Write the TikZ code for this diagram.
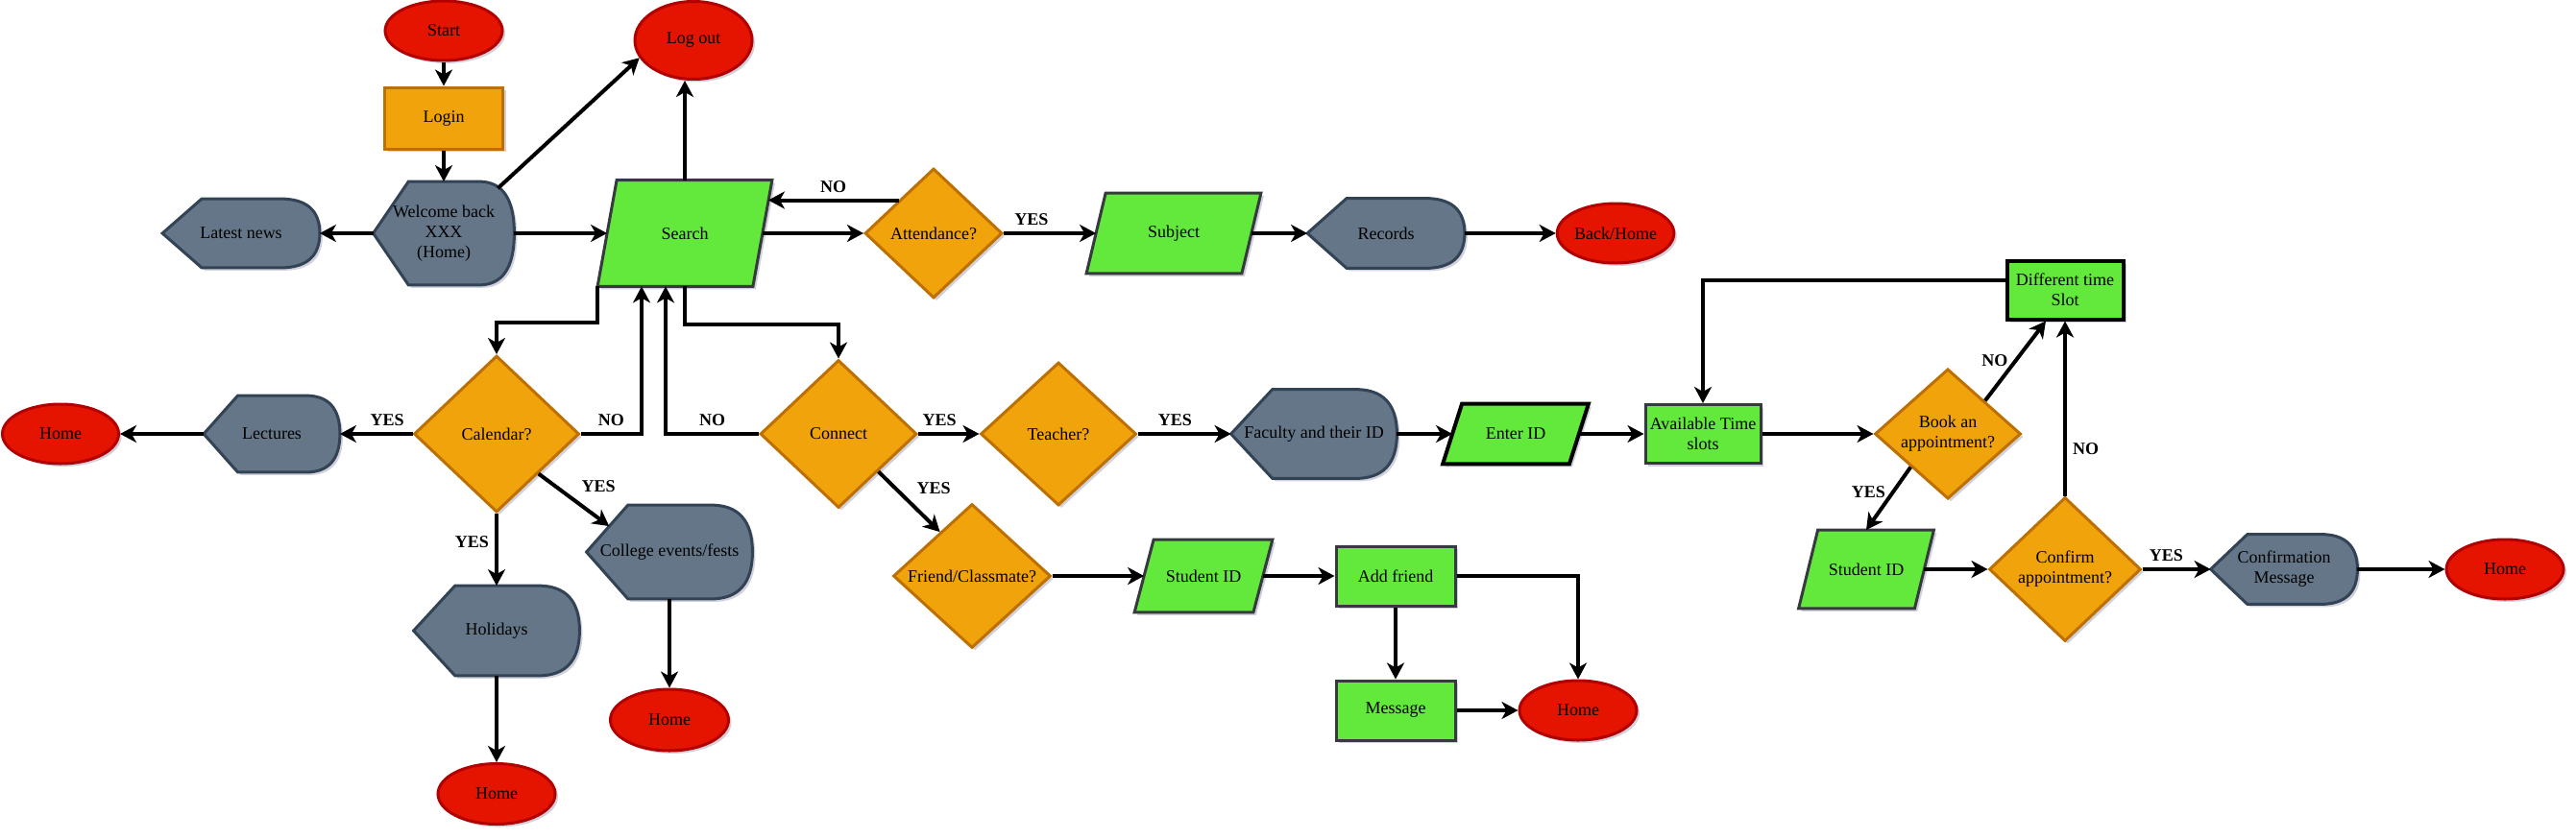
\documentclass[tikz,border=0pt]{standalone}
\usepackage{fontspec}
\setmainfont{Liberation Serif}
\usetikzlibrary{shapes.geometric,arrows.meta,shadows,backgrounds,calc}

\definecolor{termfill}{HTML}{E51400}
\definecolor{termline}{HTML}{B20000}
\definecolor{decfill}{HTML}{F0A30A}
\definecolor{decline}{HTML}{BD7000}
\definecolor{iofill}{HTML}{62E93C}
\definecolor{ioline}{HTML}{36393D}
\definecolor{dispfill}{HTML}{647687}
\definecolor{displine}{HTML}{314354}
\definecolor{shadowcol}{HTML}{9A9AB4}

\tikzset{
  txt/.style={font=\fontsize{9}{10.5}\selectfont, align=center, inner sep=0pt},
  sz/.style 2 args={minimum width=#1pt, minimum height=#2pt},
  shadowed/.style={line width=1.5pt,
    drop shadow={shadow xshift=1.5pt, shadow yshift=-1.5pt, opacity=.45, fill=shadowcol}},
  term/.style={txt, shadowed, ellipse, draw=termline, fill=termfill},
  proc/.style={txt, shadowed, rectangle, draw=decline, fill=decfill},
  dec/.style={txt, shadowed, diamond, draw=decline, fill=decfill},
  greenbox/.style={txt, shadowed, rectangle, draw=ioline, fill=iofill},
  iobox/.style={txt, rectangle},
  disp/.style={txt, rectangle},
  arr/.style={-{Stealth[length=8.5pt,width=9pt,inset=2.5pt]}, line width=2pt},
  lbl/.style={font=\fontsize{9}{10.5}\selectfont\bfseries, inner sep=3pt}
}

\begin{document}
\begin{tikzpicture}[x=1pt, y=-1pt]
\useasboundingbox (0,0) rectangle (1341,436.5);

% top row
\node[term, sz={61}{31}] (start) at (231,16) {Start};
\node[proc, sz={61.5}{32}] (login) at (231,61.5) {Login};
\node[disp, sz={73}{53.5}] (welcome) at (231,121.5) {Welcome back\\XXX\\(Home)};
\node[disp, sz={81.5}{35.5}] (news) at (125.5,121.5) {Latest news};
\node[term, sz={61}{40.5}] (logout) at (361,21) {Log out};
\node[iobox, sz={80.5}{55}] (search) at (356.5,121.5) {Search};
\node[dec, sz={71.5}{67.5}] (attend) at (486,121.5) {Attendance?};
\node[iobox, sz={80.5}{41.5}] (subject) at (611,121.5) {Subject};
\node[disp, sz={81.5}{36}] (records) at (721.5,121.5) {Records};
\node[term, sz={60.5}{31}] (backhome) at (841,121.5) {Back/Home};

% calendar branch
\node[dec, sz={86}{81.5}] (calendar) at (258.5,226) {Calendar?};
\node[disp, sz={70.5}{39.5}] (lectures) at (141.5,226) {Lectures};
\node[term, sz={60.5}{31}] (homeA) at (31.5,226) {Home};
\node[disp, sz={86}{48.5}] (events) at (348.5,287.5) {College events/fests};
\node[disp, sz={86}{46.5}] (holidays) at (258.5,328.5) {Holidays};
\node[term, sz={61}{31.5}] (homeB) at (258.5,413.5) {Home};
\node[term, sz={61.5}{32}] (homeC) at (348.5,375) {Home};

% connect branch
\node[dec, sz={81.5}{77}] (connect) at (436.5,226) {Connect};
\node[dec, sz={81}{74.5}] (teacher) at (551,226) {Teacher?};
\node[disp, sz={86}{46}] (faculty) at (684,226) {Faculty and their ID};
\node[iobox, sz={65.5}{31}] (enterid) at (789,226) {Enter ID};
\node[greenbox, sz={60}{30.5}] (avail) at (886.5,226) {Available Time\\slots};
\node[dec, sz={76}{64.5}] (book) at (1014,226) {Book an\\appointment?};
\node[greenbox, draw=black, line width=2pt, sz={60.5}{30.5}] (diff) at (1075,151) {Different time\\Slot};
\node[iobox, sz={60}{40.5}] (stud2) at (971.5,296.5) {Student ID};
\node[dec, sz={79}{75}] (confirm) at (1075,296.5) {Confirm\\appointment?};
\node[disp, sz={76}{36}] (confmsg) at (1189,296.5) {Confirmation\\Message};
\node[term, sz={61}{31}] (homeE) at (1304,296.5) {Home};
\node[dec, sz={82}{75}] (friend) at (506,300) {Friend/Classmate?};
\node[iobox, sz={61.5}{37.5}] (stud1) at (626.5,300) {Student ID};
\node[greenbox, sz={62}{31}] (addfr) at (726.5,300) {Add friend};
\node[greenbox, sz={62}{31}] (message) at (726.5,370) {Message};
\node[term, sz={61}{31}] (homeD) at (821.5,370) {Home};

% outlines of the input and display shapes
\begin{pgfonlayer}{background}
  \foreach \nd/\col/\lw in {search/ioline/1.5pt, subject/ioline/1.5pt, enterid/black/2pt,
                            stud1/ioline/1.5pt, stud2/ioline/1.5pt}
    \draw[shadowed, draw=\col, line width=\lw, fill=iofill]
      ([xshift=5pt]\nd.north west) -- ([xshift=5pt]\nd.north east)
      -- ([xshift=-5pt]\nd.south east) -- ([xshift=-5pt]\nd.south west) -- cycle;
  \foreach \nd in {news, welcome, records, lectures, events, holidays, faculty, confmsg}
    \draw[shadowed, draw=displine, fill=dispfill]
      let \p1=(\nd.north west), \p2=(\nd.south east), \p3=(\nd.east) in
      (\nd.west) -- ({\x1+0.25*(\x2-\x1)},\y1) -- ({\x2-0.25*(\x2-\x1)},\y1)
      .. controls ({\x2-0.25*(\x2-\x1)/3},\y1) and (\x2,{\y1-(\y1-\y2)/6}) .. (\p3)
      .. controls (\x2,{\y2+(\y1-\y2)/6}) and ({\x2-0.25*(\x2-\x1)/3},\y2) .. ({\x2-0.25*(\x2-\x1)},\y2)
      -- ({\x1+0.25*(\x2-\x1)},\y2) -- cycle;
\end{pgfonlayer}

% connectors
\draw[arr] (start) -- (login);
\draw[arr] (login) -- (welcome);
\draw[arr] (welcome.west) -- (news.east);
\draw[arr] (welcome.east) -- (search.west);
\draw[arr] ([xshift=-8.5pt,yshift=-3.5pt]welcome.north east) -- (logout.198);
\draw[arr] (search.north) -- (search.north |- logout.south);
\draw[arr] (search.east) -- (attend.west);
\draw[arr] (attend.north west) -- ($(attend.north west -| search.east)+(3,0)$) node[lbl, midway, above] {NO};
\draw[arr] (attend.east) -- (subject.west) node[lbl, pos=.3, above] {YES};
\draw[arr] (subject.east) -- (records.west);
\draw[arr] (records.east) -- (backhome.west);

\draw[arr] ([xshift=-5pt]search.south west) -- ++(0,19) -| (calendar.north);
\draw[arr] (calendar.east) -| ($(search.south)+(-22.5,0)$) node[lbl, pos=.25, above] {NO};
\draw[arr] (connect.west) -| ($(search.south)+(-10,0)$) node[lbl, pos=.25, above] {NO};
\draw[arr] (search.south) -- ++(0,20) -| (connect.north);
\draw[arr] (calendar.west) -- (lectures.east) node[lbl, pos=.35, above] {YES};
\draw[arr] (lectures.west) -- (homeA.east);
\draw[arr] (calendar.south east) -- ($(events.west)!.55!([xshift=21.5pt]events.north west)$) node[lbl, midway, above right] {YES};
\draw[arr] (calendar.south) -- (holidays.north) node[lbl, pos=.4, left] {YES};
\draw[arr] (holidays.south) -- (homeB.north);
\draw[arr] (events.south) -- (homeC.north);

\draw[arr] (connect.east) -- (teacher.west) node[lbl, pos=.35, above] {YES};
\draw[arr] (teacher.east) -- (faculty.west) node[lbl, pos=.4, above] {YES};
\draw[arr] (faculty.east) -- (enterid.west);
\draw[arr] (enterid.east) -- (avail.west);
\draw[arr] (avail.east) -- (book.west);
\draw[arr] ([yshift=5pt]diff.west) -| (avail.north);
\draw[arr] (book.north east) -- ([xshift=-10pt]diff.south) node[lbl, midway, left] {NO};
\draw[arr] (book.south west) -- (stud2.north) node[lbl, pos=.4, left] {YES};
\draw[arr] (confirm.north) -- (diff.south) node[lbl, pos=.27, right] {NO};
\draw[arr] (stud2.east) -- (confirm.west);
\draw[arr] (confirm.east) -- (confmsg.west) node[lbl, pos=.35, above] {YES};
\draw[arr] (confmsg.east) -- (homeE.west);

\draw[arr] (connect.south east) -- ($(friend.west)!.6!(friend.north)$) node[lbl, midway, above right] {YES};
\draw[arr] (friend.east) -- (stud1.west);
\draw[arr] (stud1.east) -- (addfr.west);
\draw[arr] (addfr.south) -- (message.north);
\draw[arr] (addfr.east) -| (homeD.north);
\draw[arr] (message.east) -- (homeD.west);

\end{tikzpicture}
\end{document}
